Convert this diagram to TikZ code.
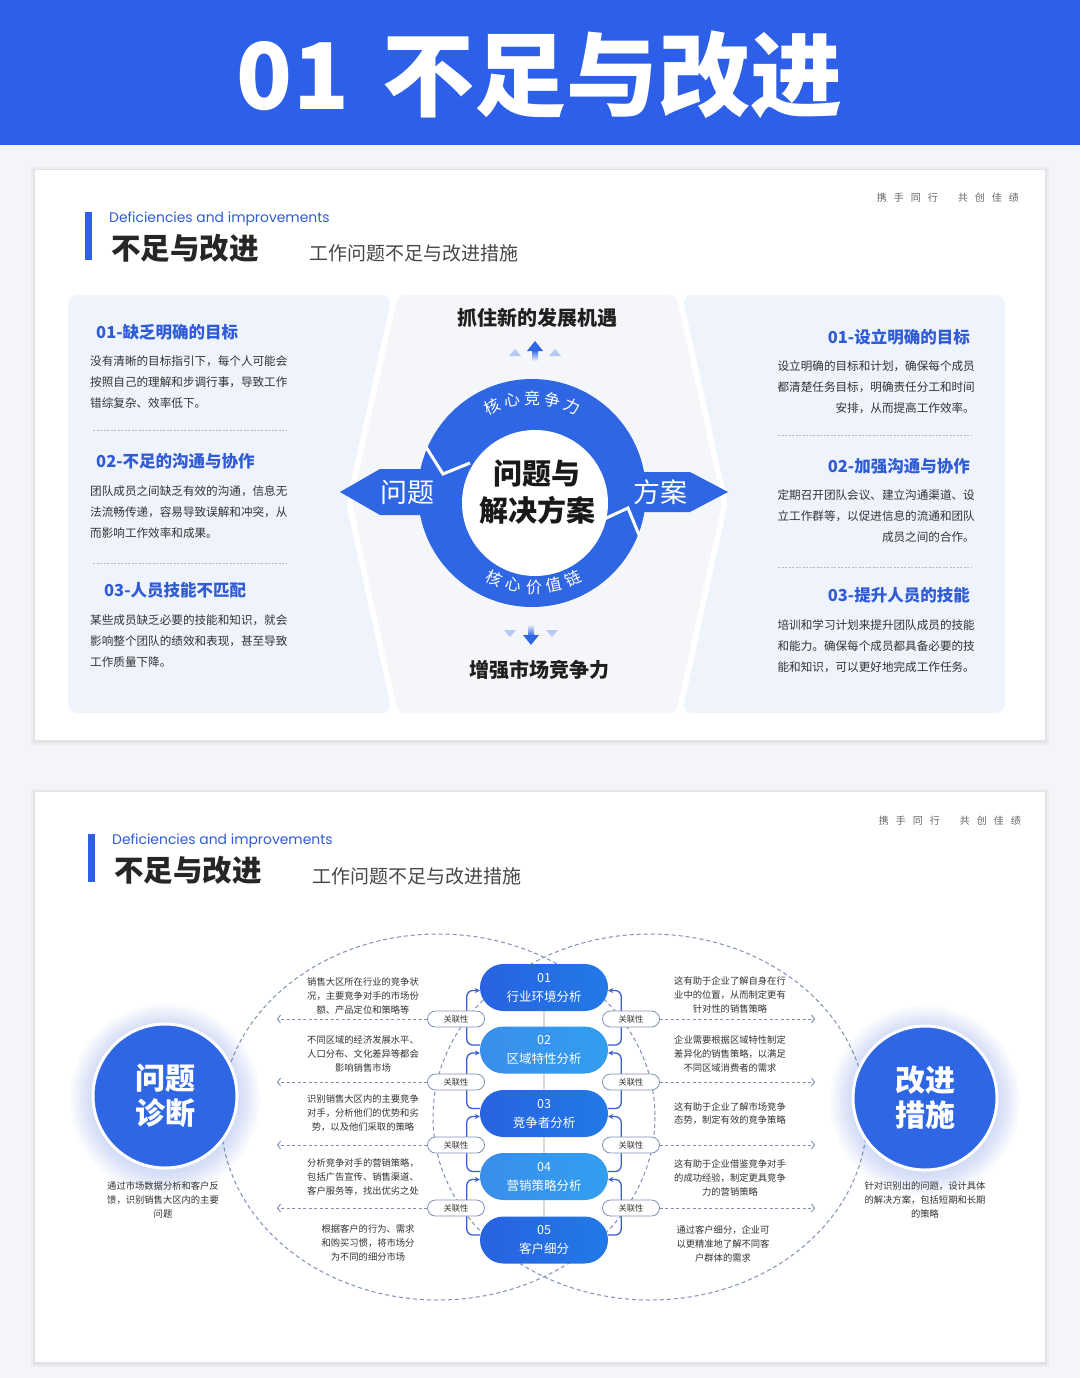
\documentclass[tikz,border=0pt]{standalone}
\usepackage{fontspec}
\setmainfont{Noto Sans CJK SC}
\newfontfamily\popf{Poppins}
\usetikzlibrary{arrows.meta,calc,shapes.misc}
\definecolor{bannerblue}{HTML}{2D5FE8}
\definecolor{pagebg}{HTML}{F3F5F9}
\definecolor{titblue}{HTML}{2F5CD6}
\definecolor{txt}{HTML}{333333}
\definecolor{sidepanel}{HTML}{EEF3FC}
\definecolor{midpanel}{HTML}{F5F6F9}
\definecolor{ringblue}{HTML}{2F66E3}
\definecolor{dashc}{HTML}{7F8FB5}
\definecolor{pilldark}{HTML}{2862E2}
\definecolor{pilllight}{HTML}{3A8EEB}
\definecolor{connc}{HTML}{3A5FCC}
\tikzset{
  bodyl/.style={anchor=west, align=left, inner sep=0pt, text=txt, font=\fontsize{11.6}{21}\selectfont},
  bodyr/.style={anchor=east, align=right, inner sep=0pt, text=txt, font=\fontsize{11.6}{21}\selectfont},
  headl/.style={anchor=west, inner sep=0pt, text=titblue, font=\fontsize{16.5}{17}\selectfont\bfseries},
  headr/.style={anchor=east, inner sep=0pt, text=titblue, font=\fontsize{16.5}{17}\selectfont\bfseries},
  sepline/.style={draw=black!28, line width=0.7pt, dash pattern=on 2pt off 1.5pt},
  smalltxt/.style={align=center, inner sep=0pt, text=txt, font=\fontsize{9.3}{13.8}\selectfont},
  pill/.style={rounded rectangle, minimum width=128pt, minimum height=47pt, inner sep=0pt, text=white, align=center, font=\fontsize{12.5}{19}\selectfont},
  reltag/.style={rounded rectangle, draw=dashc, line width=0.8pt, fill=white, minimum width=57pt, minimum height=16pt, inner sep=0pt, text=txt, font=\fontsize{8.3}{9}\selectfont},
  conn/.style={draw=connc, line width=1.3pt, rounded corners=6pt, -{Stealth[length=5pt,width=5pt]}},
  darr/.style={draw=dashc, line width=0.9pt, dash pattern=on 3pt off 2.5pt, -{Straight Barb[length=3pt,width=8pt]}},
  ell/.style={draw=dashc, line width=1pt, dash pattern=on 4pt off 3pt},
  enhead/.style={anchor=west, inner sep=0pt, text=titblue, font=\popf\fontsize{13.9}{14}\selectfont},
  zhhead/.style={anchor=west, inner sep=0pt, text=black!85, font=\fontsize{29.5}{30}\selectfont\bfseries},
  subhead/.style={anchor=west, inner sep=0pt, text=black!72, font=\fontsize{19}{19}\selectfont},
  motto/.style={anchor=east, inner sep=0pt, text=black!60, font=\fontsize{10}{10}\selectfont},
  bigcirc/.style={circle, fill=ringblue, draw=white, line width=3pt, minimum size=144pt, inner sep=0pt, text=white, align=center, font=\fontsize{30}{35}\selectfont\bfseries},
  centerlbl/.style={inner sep=0pt, text=black!88, font=\fontsize{20}{20}\selectfont\bfseries},
  ringtxt/.style={text=white, inner sep=0pt, font=\fontsize{16}{16}\selectfont}
}
\newcommand{\mottotext}{携\hspace{7pt}手\hspace{7pt}同\hspace{7pt}行\hspace{20pt}共\hspace{7pt}创\hspace{7pt}佳\hspace{7pt}绩}
\begin{document}
\begin{tikzpicture}[x=1pt,y=-1pt]
\useasboundingbox (0,0) rectangle (1080,1378);
\fill[pagebg] (0,0) rectangle (1080,1378);
% banner
\fill[bannerblue] (0,0) rectangle (1080,145);
\node[text=white, inner sep=0pt, font=\fontsize{92}{92}\selectfont\bfseries] (title) at (540,75) {01\hspace{34pt}不足与改进};
% cards
\foreach \yy/\hh in {170/740, 792/1362}{
  \fill[black, opacity=0.03] (31,\yy-3) rectangle (1049,\hh+5);
  \fill[black, opacity=0.04] (33,\yy-1) rectangle (1047,\hh+3);
  \fill[white] (35,\yy) rectangle (1045,\hh);
}
% ===== slide 1 =====
\fill[bannerblue] (85,212) rectangle (92,260);
\node[enhead] (en1) at (109,219) {Deficiencies and improvements};
\node[zhhead] (zh1) at (111,248) {不足与改进};
\node[subhead] (sub1) at (309,253) {工作问题不足与改进措施};
\node[motto] (mot1) at (1019,198) {\mottotext};
% panels
\fill[sidepanel, rounded corners=10pt] (68,295) -- (392,295) -- (346,503) -- (392,713) -- (68,713) -- cycle;
\fill[midpanel, rounded corners=6pt] (398,295) -- (676,295) -- (722,503) -- (676,713) -- (398,713) -- (352,503) -- cycle;
\fill[sidepanel, rounded corners=10pt] (682,295) -- (1005,295) -- (1005,713) -- (682,713) -- (728,503) -- cycle;
% left column
\node[headl] (l1t) at (96,332) {01-缺乏明确的目标};
\node[bodyl] (l1b) at (90,382) {没有清晰的目标指引下，每个人可能会\\按照自己的理解和步调行事，导致工作\\错综复杂、效率低下。};
\draw[sepline] (93,430) -- (287,430);
\node[headl] (l2t) at (96,461) {02-不足的沟通与协作};
\node[bodyl] (l2b) at (90,512) {团队成员之间缺乏有效的沟通，信息无\\法流畅传递，容易导致误解和冲突，从\\而影响工作效率和成果。};
\draw[sepline] (93,563) -- (287,563);
\node[headl] (l3t) at (104,590) {03-人员技能不匹配};
\node[bodyl] (l3b) at (90,641) {某些成员缺乏必要的技能和知识，就会\\影响整个团队的绩效和表现，甚至导致\\工作质量下降。};
% right column
\node[headr] (r1t) at (970,337) {01-设立明确的目标};
\node[bodyr] (r1b) at (975,387) {设立明确的目标和计划，确保每个成员\\都清楚任务目标，明确责任分工和时间\\安排，从而提高工作效率。};
\draw[sepline] (778,435) -- (972,435);
\node[headr] (r2t) at (970,466) {02-加强沟通与协作};
\node[bodyr] (r2b) at (975,516) {定期召开团队会议、建立沟通渠道、设\\立工作群等，以促进信息的流通和团队\\成员之间的合作。};
\draw[sepline] (778,567) -- (972,567);
\node[headr] (r3t) at (970,595) {03-提升人员的技能};
\node[bodyr] (r3b) at (975,646) {培训和学习计划来提升团队成员的技能\\和能力。确保每个成员都具备必要的技\\能和知识，可以更好地完成工作任务。};
% center
\node[centerlbl] (upl) at (537,318) {抓住新的发展机遇};
\node[centerlbl] (dnl) at (539,670) {增强市场竞争力};
% up arrows
\shade[top color=ringblue, bottom color=midpanel] (532,350) rectangle (538,361);
\fill[ringblue] (527,351) -- (535,341) -- (543,351) -- cycle;
\fill[ringblue!35] (509,356) -- (515,349) -- (521,356) -- cycle;
\fill[ringblue!35] (549,356) -- (555,349) -- (561,356) -- cycle;
% down arrows
\shade[top color=midpanel, bottom color=ringblue] (528,624) rectangle (534,636);
\fill[ringblue] (523,635) -- (539,635) -- (531,645) -- cycle;
\fill[ringblue!35] (504,630) -- (516,630) -- (510,637) -- cycle;
\fill[ringblue!35] (546,630) -- (558,630) -- (552,637) -- cycle;
% ring
\fill[ringblue] (532,493) circle[radius=114];
\fill[ringblue] (340,492) -- (380,469) -- (432,469) -- (432,515) -- (380,515) -- cycle;
\fill[ringblue] (728,492) -- (690,472) -- (636,472) -- (636,512) -- (690,512) -- cycle;
\fill[white] (535,503) circle[radius=73];
\draw[white, line width=3pt, line join=miter] (426,447) -- (443,474) -- (470,463);
\draw[white, line width=3pt, line join=miter] (639,535) -- (628,508) -- (600,521);
\foreach \ch [count=\i] in {核,心,竞,争,力}{
  \pgfmathsetmacro{\ang}{90+(3-\i)*12.3}
  \pgfmathsetmacro{\rot}{\ang-90}
  \node[ringtxt, rotate=\rot] (ka\i) at ({532+96*cos(\ang)},{494-96*sin(\ang)}) {\ch};
}
\foreach \ch [count=\i] in {核,心,价,值,链}{
  \pgfmathsetmacro{\ang}{270+(\i-3)*12.6}
  \pgfmathsetmacro{\rot}{\ang-270}
  \node[ringtxt, rotate=\rot] (kb\i) at ({534+93*cos(\ang)},{494-93*sin(\ang)}) {\ch};
}
\node[inner sep=0pt, text=white, font=\fontsize{27}{27}\selectfont] (wt) at (407,492) {问题};
\node[inner sep=0pt, text=white, font=\fontsize{27}{27}\selectfont] (fa) at (660,492) {方案};
\node[inner sep=0pt, align=center, text=black!90, font=\fontsize{29}{37}\selectfont\bfseries] (core) at (537,492) {问题与\\解决方案};
% ===== slide 2 =====
\fill[bannerblue] (88,834) rectangle (95,882);
\node[enhead] (en2) at (112,841) {Deficiencies and improvements};
\node[zhhead] (zh2) at (114,870) {不足与改进};
\node[subhead] (sub2) at (312,876) {工作问题不足与改进措施};
\node[motto] (mot2) at (1021,821) {\mottotext};
% dashed ellipses
\draw[ell] (438,1117) ellipse[x radius=217, y radius=183];
\draw[ell] (650,1117) ellipse[x radius=217, y radius=183];
% big circles with glow
\foreach \cx/\cy in {165/1096, 925/1098}{
  \foreach \k in {1,...,9}{
    \fill[ringblue, opacity=0.025] (\cx,\cy+3) circle[radius=72+\k*2.6];
  }
}
\node[bigcirc] (diag) at (165,1096) {问题\\诊断};
\node[bigcirc] (impr) at (925,1098) {改进\\措施};
\node[smalltxt] (diagc) at (163,1200) {通过市场数据分析和客户反\\馈，识别销售大区内的主要\\问题};
\node[smalltxt] (imprc) at (925,1200) {针对识别出的问题，设计具体\\的解决方案，包括短期和长期\\的策略};
% central spine
\coordinate (pc1) at (544,987.5);
\coordinate (pc5) at (544,1240);
\draw[line width=2.5pt, draw=black!14] (pc1) -- (pc5);
\node[pill, left color=pilldark, right color=pilldark!85!cyan] (p1) at (544,987.5) {01\\行业环境分析};
\node[pill, left color=pilllight, right color=pilllight!85!cyan] (p2) at (544,1050) {02\\区域特性分析};
\node[pill, left color=pilldark, right color=pilldark!85!cyan] (p3) at (544,1113.5) {03\\竞争者分析};
\node[pill, left color=pilllight, right color=pilllight!85!cyan] (p4) at (544,1176.5) {04\\营销策略分析};
\node[pill, left color=pilldark, right color=pilldark!85!cyan] (p5) at (544,1240) {05\\客户细分};
\foreach \i [evaluate=\i as \j using int(\i+1)] in {1,...,4}{
  \draw[conn] ($(p\j.west)+(0,-5)$) -- ++(-13,0) |- ($(p\i.west)+(0,3)$);
  \draw[conn] ($(p\j.east)+(0,-5)$) -- ++(13,0) |- ($(p\i.east)+(0,3)$);
}
\foreach \i/\y in {1/1019,2/1082,3/1145,4/1208}{
  \node[reltag] (lt\i) at (456,\y) {关联性};
  \node[reltag] (rg\i) at (631,\y) {关联性};
  \coordinate (lx\i) at (277,\y);
  \coordinate (rx\i) at (815,\y);
  \draw[darr] (lt\i.west) -- (lx\i);
  \draw[darr] (rg\i.east) -- (rx\i);
}
% left descriptions
\node[smalltxt] (ld1) at (363,996) {销售大区所在行业的竞争状\\况，主要竞争对手的市场份\\额、产品定位和策略等};
\node[smalltxt] (ld2) at (363,1054) {不同区域的经济发展水平、\\人口分布、文化差异等都会\\影响销售市场};
\node[smalltxt] (ld3) at (363,1113) {识别销售大区内的主要竞争\\对手，分析他们的优势和劣\\势，以及他们采取的策略};
\node[smalltxt] (ld4) at (363,1177) {分析竞争对手的营销策略，\\包括广告宣传、销售渠道、\\客户服务等，找出优劣之处};
\node[smalltxt] (ld5) at (368,1243) {根据客户的行为、需求\\和购买习惯，将市场分\\为不同的细分市场};
% right descriptions
\node[smalltxt] (rd1) at (730,995) {这有助于企业了解自身在行\\业中的位置，从而制定更有\\针对性的销售策略};
\node[smalltxt] (rd2) at (730,1054) {企业需要根据区域特性制定\\差异化的销售策略，以满足\\不同区域消费者的需求};
\node[smalltxt] (rd3) at (730,1113.5) {这有助于企业了解市场竞争\\态势，制定有效的竞争策略};
\node[smalltxt] (rd4) at (730,1178) {这有助于企业借鉴竞争对手\\的成功经验，制定更具竞争\\力的营销策略};
\node[smalltxt] (rd5) at (723,1244) {通过客户细分，企业可\\以更精准地了解不同客\\户群体的需求};
\end{tikzpicture}
\end{document}
